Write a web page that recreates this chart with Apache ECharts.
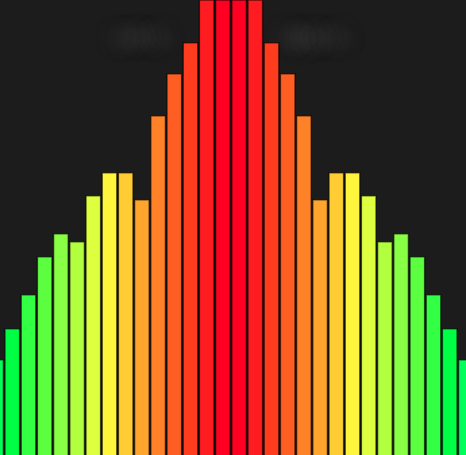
<!DOCTYPE html>
<html>
<head>
<meta charset="utf-8">
<script src="https://cdn.jsdelivr.net/npm/echarts@6/dist/echarts.min.js"></script>
<style>
html,body{margin:0;padding:0;background:#1c1c1c;overflow:hidden;width:466px;height:455px;}
#chart{position:absolute;left:-12px;top:-60px;width:486px;height:520px;}
</style>
</head>
<body>
<div id="chart"></div>
<script>
const categories = ['1','2','3','4','5','6','7','8','9','10','11','12','13','14','15',
                    '16','17','18','19','20','21','22','23','24','25','26','27','28','29','30'];
const values = [101, 132, 166, 204, 227, 219, 265, 288, 288, 261, 345, 387, 418, 485, 505,
                505, 485, 418, 387, 345, 261, 288, 288, 265, 219, 227, 204, 166, 132, 101];
const colors = ['#00ff5a', '#00ff44', '#33ff44', '#5cff40', '#88ff44', '#b2ff40', '#ddff40', '#fff53c',
                '#ffcc33', '#ffa52e', '#ff8228', '#ff5e22', '#ff3c1e', '#ff1c20', '#ff0022',
                '#ff0022', '#ff1c20', '#ff3c1e', '#ff5e22', '#ff8228', '#ffa52e', '#ffcc33', '#fff53c',
                '#ddff40', '#b2ff40', '#88ff44', '#5cff40', '#33ff44', '#00ff44', '#00ff5a'];
const labels = ['Left ch.', 'Right ch.'];

const chart = echarts.init(document.getElementById('chart'), null, {renderer: 'canvas'});
const blurText = (txt, x) => ({
  type: 'text', x: x, y: 20, z: 100,
  style: {
    text: txt, fill: '#888', font: 'bold 13px "DejaVu Sans"',
    align: 'center', verticalAlign: 'middle',
    textShadowColor: 'rgba(150,150,150,0.7)', textShadowBlur: 20,
    textShadowOffsetX: 0, textShadowOffsetY: 79
  }
});
chart.setOption({
  backgroundColor: '#1c1c1c',
  animation: false,
  grid: {left: 0, right: 0, top: 60, bottom: 0},
  xAxis: {type: 'category', data: categories, show: false},
  yAxis: {type: 'value', min: 0, max: 460, show: false},
  graphic: [blurText(labels[0], 143 + 12), blurText(labels[1], 317 + 12)],
  series: [{
    type: 'bar',
    data: values.map((v, i) => ({value: v, itemStyle: {color: colors[i]}})),
    barCategoryGap: '0%',
    itemStyle: {borderColor: 'rgba(0,0,0,0.6)', borderWidth: 1.5}
  }]
});
</script>
</body>
</html>
